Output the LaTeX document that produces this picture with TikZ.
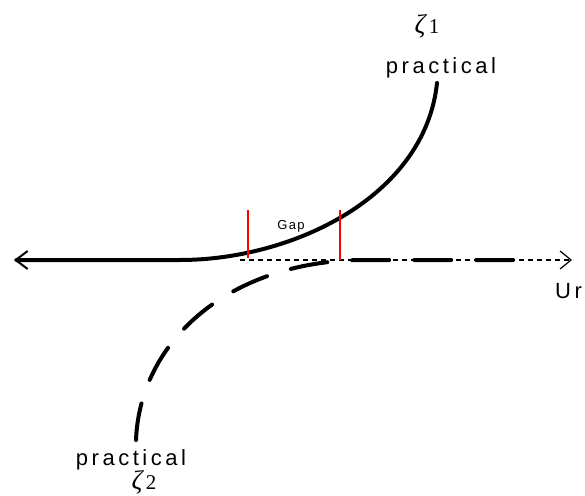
\documentclass[tikz,border=0pt]{standalone}
\usepackage{fontspec}
\setmainfont{Liberation Sans}
\newfontfamily\zetafont{Liberation Serif}
\usetikzlibrary{arrows.meta}
\tikzset{
  curve/.style     ={line width=4pt,line cap=round},
  dashcurve/.style ={curve,dash pattern=on 37pt off 25pt},
  axisline/.style  ={line width=1.2pt,dash pattern=on 5pt off 4pt},
  marker/.style    ={red,line width=1.6pt},
  lbl/.style       ={inner sep=0pt,anchor=base,font=\fontsize{22}{24}\selectfont\addfontfeatures{LetterSpace=16}},
  small/.style     ={font=\fontsize{13}{15}\selectfont\addfontfeatures{LetterSpace=10}},
  zlbl/.style      ={inner sep=0pt,anchor=base,font=\zetafont\fontsize{21}{26}\selectfont},
}
\newcommand{\bigzeta}{{\fontsize{27}{30}\selectfont\itshape ζ}}
\begin{document}
\begin{tikzpicture}[x=1pt,y=-1pt]
  \useasboundingbox (0,0) rectangle (585,495);
  \coordinate (L) at (14,260);   \coordinate (R) at (572,260);
  \coordinate (top1) at (437,83); \coordinate (bot2) at (136,440);
  % axis and the two curves
  \draw[axisline,-{Straight Barb[length=11pt,width=18pt,line width=1.2pt]}](240,260)--(R);
  \draw[curve,{Straight Barb[length=12pt,width=18pt,line width=2pt]}-](L)--(180,260) .. controls (292,260) and (425,197) .. (top1);
  \draw[dashcurve](bot2) .. controls (140,340) and (230,262) .. (360,260) -- (528,260);
  \draw[marker](248,210)--(248,258); \draw[marker](340,210)--(340,260);
  % labels
  \node[zlbl](z1) at (427,34){\bigzeta\,1};
  \node[lbl](p1) at (441,73){practical};
  \node[lbl,small](gap) at (291,229){Gap};
  \node[lbl](p2) at (131,465){practical};
  \node[zlbl](z2) at (144,489){\bigzeta\,2};
  \node[lbl,anchor=base west](ur) at (555,298){Ur};
\end{tikzpicture}
\end{document}
